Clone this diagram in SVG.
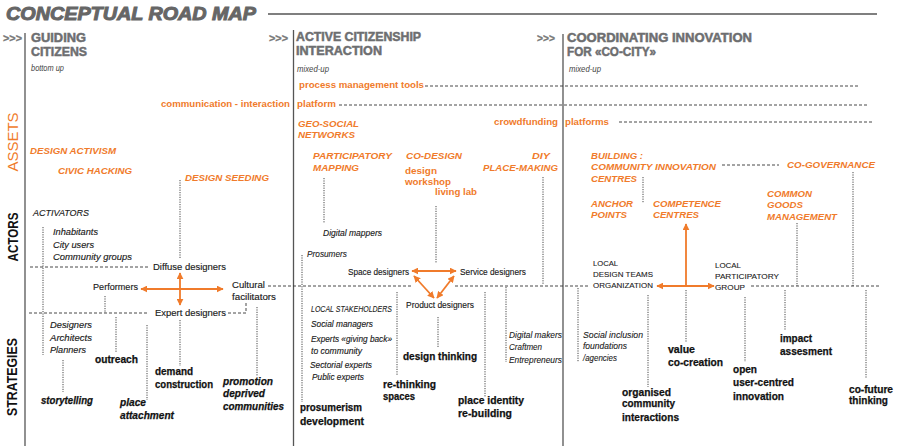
<svg xmlns="http://www.w3.org/2000/svg" width="899" height="446" viewBox="0 0 899 446">
<style>
text{font-family:"Liberation Sans",Arial,Helvetica,sans-serif}
.title{font-size:18.5px;font-weight:bold;font-style:italic;fill:#666;stroke:#666;stroke-width:1}
.hd{font-size:12.5px;font-weight:bold;fill:#6d6e70;stroke:#6d6e70;stroke-width:0.5}
.arr{font-size:10px;font-weight:bold;fill:#777;stroke:#777;stroke-width:0.3}
.sub{font-size:8.5px;font-style:italic;fill:#444}
.o{font-size:9.5px;font-weight:bold;fill:#f07b2b}
.oi{font-size:9.5px;font-weight:bold;font-style:italic;fill:#f07b2b}
.k{font-size:9.5px;fill:#1a1a1a;stroke:#1a1a1a;stroke-width:0.15}
.kc{font-size:8px;fill:#1a1a1a;stroke:#1a1a1a;stroke-width:0.1}
.ki{font-size:9.5px;font-style:italic;fill:#1a1a1a;stroke:#1a1a1a;stroke-width:0.15}
.ks{font-size:8.5px;font-style:italic;fill:#1a1a1a;stroke:#1a1a1a;stroke-width:0.1}
.kb{font-size:10px;font-weight:bold;fill:#111;stroke:#111;stroke-width:0.25}
.kbi{font-size:10px;font-weight:bold;font-style:italic;fill:#111;stroke:#111;stroke-width:0.25}
.axo{font-size:14.5px;fill:#f07b2b}
.axk{font-size:14.5px;font-weight:bold;fill:#111}
.col{stroke:#555;stroke-width:1.3;fill:none}
.dh{stroke:#333;stroke-width:0.9;stroke-dasharray:3 2;fill:none}
.dv{stroke:#333;stroke-width:0.9;stroke-dasharray:1.2 1.2;fill:none}
.oa{stroke:#f07b2b;stroke-width:1.8;fill:none}
</style>
<defs>
<marker id="ah" viewBox="0 0 10 10" refX="9" refY="5" markerWidth="7" markerHeight="7" markerUnits="userSpaceOnUse" orient="auto-start-reverse">
<path d="M0,0 L10,5 L0,10 z" fill="#f07b2b"/>
</marker>
</defs>
<rect width="899" height="446" fill="#ffffff"/>

<g id="title">
<text class="title" x="6" y="20" textLength="250" lengthAdjust="spacingAndGlyphs">CONCEPTUAL ROAD MAP</text>
<line x1="268" y1="14" x2="877" y2="14" stroke="#555" stroke-width="1.5"/>
</g>

<g id="columns">
<line class="col" x1="25" y1="33" x2="25" y2="446"/>
<line class="col" x1="293.5" y1="30" x2="293.5" y2="446"/>
<line class="col" x1="563" y1="34" x2="563" y2="446"/>
</g>

<g id="axis-labels">
<text class="axo" transform="translate(18,142) rotate(-90)" text-anchor="middle" textLength="59" lengthAdjust="spacingAndGlyphs">ASSETS</text>
<text class="axk" transform="translate(18,237) rotate(-90)" text-anchor="middle" textLength="49" lengthAdjust="spacingAndGlyphs">ACTORS</text>
<text class="axk" transform="translate(17,377) rotate(-90)" text-anchor="middle" textLength="78" lengthAdjust="spacingAndGlyphs">STRATEGIES</text>
</g>

<g id="header-guiding">
<text class="arr" x="3" y="42" textLength="19" lengthAdjust="spacingAndGlyphs">&gt;&gt;&gt;</text>
<text class="hd" x="31" y="42" textLength="55" lengthAdjust="spacingAndGlyphs">GUIDING</text>
<text class="hd" x="31" y="56" textLength="56" lengthAdjust="spacingAndGlyphs">CITIZENS</text>
<text class="sub" x="31" y="71" textLength="33" lengthAdjust="spacingAndGlyphs">bottom up</text>
</g>
<g id="header-active">
<text class="arr" x="269" y="42" textLength="19" lengthAdjust="spacingAndGlyphs">&gt;&gt;&gt;</text>
<text class="hd" x="296" y="41" textLength="125" lengthAdjust="spacingAndGlyphs">ACTIVE CITIZENSHIP</text>
<text class="hd" x="296" y="55" textLength="86" lengthAdjust="spacingAndGlyphs">INTERACTION</text>
<text class="sub" x="297" y="72" textLength="32" lengthAdjust="spacingAndGlyphs">mixed-up</text>
</g>
<g id="header-coordinating">
<text class="arr" x="537" y="42" textLength="18" lengthAdjust="spacingAndGlyphs">&gt;&gt;&gt;</text>
<text class="hd" x="567" y="42" textLength="185" lengthAdjust="spacingAndGlyphs">COORDINATING INNOVATION</text>
<text class="hd" x="567" y="56" textLength="89" lengthAdjust="spacingAndGlyphs">FOR «CO-CITY»</text>
<text class="sub" x="569" y="72" textLength="32" lengthAdjust="spacingAndGlyphs">mixed-up</text>
</g>

<g id="connectors">
<line class="dh" x1="425" y1="86" x2="858" y2="86"/>
<line class="dh" x1="339" y1="105" x2="868" y2="105"/>
<line class="dh" x1="619" y1="122" x2="872" y2="122"/>
<line class="dh" x1="30" y1="267" x2="148" y2="267"/>
<line class="dh" x1="29" y1="313" x2="147" y2="313"/>
<polyline class="dh" points="228,313 246,313 246,303"/>
<line class="dv" x1="43" y1="227" x2="43" y2="355"/>
<line class="dv" x1="180" y1="180" x2="180" y2="258"/>
<line class="dv" x1="105" y1="296" x2="105" y2="313"/>
<line class="dv" x1="116" y1="317" x2="116" y2="353"/>
<line class="dv" x1="63" y1="360" x2="63" y2="392"/>
<line class="dv" x1="147" y1="325" x2="147" y2="400"/>
<line class="dv" x1="180" y1="320" x2="180" y2="366"/>
<line class="dv" x1="257" y1="307" x2="257" y2="376"/>
<line class="dh" x1="268" y1="286" x2="413" y2="286"/>
<line class="dh" x1="455" y1="286" x2="590" y2="286"/>
<line class="dh" x1="751" y1="286" x2="880" y2="286"/>
<line class="dv" x1="324" y1="178" x2="324" y2="223"/>
<line class="dv" x1="436" y1="206" x2="436" y2="263"/>
<line class="dv" x1="543" y1="177" x2="543" y2="285"/>
<line class="dv" x1="302" y1="255" x2="302" y2="402"/>
<line class="dv" x1="438" y1="317" x2="438" y2="348"/>
<line class="dv" x1="397" y1="292" x2="397" y2="375"/>
<line class="dv" x1="485" y1="292" x2="485" y2="397"/>
<line class="dv" x1="506" y1="287" x2="506" y2="362"/>
<line class="dh" x1="722" y1="165" x2="779" y2="165"/>
<line class="dv" x1="643" y1="177" x2="643" y2="203"/>
<line class="dv" x1="797" y1="223" x2="797" y2="286"/>
<line class="dv" x1="853" y1="172" x2="853" y2="286"/>
<line class="dv" x1="578" y1="288" x2="578" y2="362"/>
<line class="dv" x1="648" y1="295" x2="648" y2="387"/>
<line class="dv" x1="686" y1="290" x2="686" y2="342"/>
<line class="dv" x1="745" y1="297" x2="745" y2="362"/>
<line class="dv" x1="785" y1="290" x2="785" y2="330"/>
<line class="dv" x1="866" y1="290" x2="866" y2="378"/>
<line class="oa" x1="141" y1="289" x2="223" y2="289" marker-start="url(#ah)" marker-end="url(#ah)"/>
<line class="oa" x1="180" y1="273" x2="180" y2="305" marker-start="url(#ah)" marker-end="url(#ah)"/>
<line class="oa" x1="412" y1="271" x2="456" y2="271" marker-start="url(#ah)" marker-end="url(#ah)"/>
<line class="oa" x1="414" y1="276" x2="434" y2="298" marker-start="url(#ah)" marker-end="url(#ah)"/>
<line class="oa" x1="454" y1="276" x2="437" y2="298" marker-start="url(#ah)" marker-end="url(#ah)"/>
<line class="oa" x1="657" y1="286" x2="714" y2="286" marker-start="url(#ah)" marker-end="url(#ah)"/>
<line class="oa" x1="686" y1="286" x2="686" y2="224" marker-end="url(#ah)"/>
</g>

<g id="process-management-tools"><text class="o" x="299" y="88" textLength="125" lengthAdjust="spacingAndGlyphs">process management tools</text></g>
<g id="communication-platform">
<text class="o" x="161" y="107" textLength="129" lengthAdjust="spacingAndGlyphs">communication - interaction</text>
<text class="o" x="297" y="107" textLength="39" lengthAdjust="spacingAndGlyphs">platform</text>
</g>
<g id="crowdfunding-platforms">
<text class="o" x="494" y="125" textLength="64" lengthAdjust="spacingAndGlyphs">crowdfunding</text>
<text class="o" x="565" y="125" textLength="44" lengthAdjust="spacingAndGlyphs">platforms</text>
</g>
<g id="geo-social"><text class="oi" x="298" y="127" textLength="61" lengthAdjust="spacingAndGlyphs">GEO-SOCIAL</text><text class="oi" x="298" y="138" textLength="57" lengthAdjust="spacingAndGlyphs">NETWORKS</text></g>
<g id="design-activism"><text class="oi" x="30" y="154" textLength="86" lengthAdjust="spacingAndGlyphs">DESIGN ACTIVISM</text></g>
<g id="civic-hacking"><text class="oi" x="58" y="174" textLength="74" lengthAdjust="spacingAndGlyphs">CIVIC HACKING</text></g>
<g id="design-seeding"><text class="oi" x="185" y="181" textLength="84" lengthAdjust="spacingAndGlyphs">DESIGN SEEDING</text></g>
<g id="participatory-mapping"><text class="oi" x="313" y="159" textLength="79" lengthAdjust="spacingAndGlyphs">PARTICIPATORY</text><text class="oi" x="313" y="171" textLength="46" lengthAdjust="spacingAndGlyphs">MAPPING</text></g>
<g id="co-design">
<text class="oi" x="406" y="159" textLength="56" lengthAdjust="spacingAndGlyphs">CO-DESIGN</text>
<text class="o" x="405" y="174" textLength="32" lengthAdjust="spacingAndGlyphs">design</text>
<text class="o" x="405" y="185" textLength="46" lengthAdjust="spacingAndGlyphs">workshop</text>
<text class="o" x="435" y="195" textLength="42" lengthAdjust="spacingAndGlyphs">living lab</text>
</g>
<g id="diy-place-making"><text class="oi" x="532" y="159" textLength="18" lengthAdjust="spacingAndGlyphs">DIY</text><text class="oi" x="483" y="171" textLength="75" lengthAdjust="spacingAndGlyphs">PLACE-MAKING</text></g>
<g id="building-cic">
<text class="oi" x="591" y="159" textLength="52" lengthAdjust="spacingAndGlyphs">BUILDING :</text>
<text class="oi" x="591" y="170" textLength="125" lengthAdjust="spacingAndGlyphs">COMMUNITY INNOVATION</text>
<text class="oi" x="591" y="182" textLength="46" lengthAdjust="spacingAndGlyphs">CENTRES</text>
</g>
<g id="co-governance"><text class="oi" x="787" y="168" textLength="88" lengthAdjust="spacingAndGlyphs">CO-GOVERNANCE</text></g>
<g id="anchor-points"><text class="oi" x="591" y="207" textLength="42" lengthAdjust="spacingAndGlyphs">ANCHOR</text><text class="oi" x="591" y="218" textLength="36" lengthAdjust="spacingAndGlyphs">POINTS</text></g>
<g id="competence-centres"><text class="oi" x="653" y="207" textLength="68" lengthAdjust="spacingAndGlyphs">COMPETENCE</text><text class="oi" x="653" y="218" textLength="46" lengthAdjust="spacingAndGlyphs">CENTRES</text></g>
<g id="common-goods"><text class="oi" x="767" y="197" textLength="45" lengthAdjust="spacingAndGlyphs">COMMON</text><text class="oi" x="767" y="208" textLength="36" lengthAdjust="spacingAndGlyphs">GOODS</text><text class="oi" x="767" y="220" textLength="70" lengthAdjust="spacingAndGlyphs">MANAGEMENT</text></g>

<g id="activators">
<text class="ki" x="33" y="216" textLength="56" lengthAdjust="spacingAndGlyphs">ACTIVATORS</text>
<text class="ki" x="53" y="235" textLength="45" lengthAdjust="spacingAndGlyphs">Inhabitants</text>
<text class="ki" x="53" y="248" textLength="41" lengthAdjust="spacingAndGlyphs">City users</text>
<text class="ki" x="53" y="260" textLength="79" lengthAdjust="spacingAndGlyphs">Community groups</text>
</g>
<g id="diffuse-designers"><text class="k" x="153" y="270" textLength="73" lengthAdjust="spacingAndGlyphs">Diffuse designers</text></g>
<g id="performers"><text class="k" x="93" y="290" textLength="45" lengthAdjust="spacingAndGlyphs">Performers</text></g>
<g id="cultural-facilitators"><text class="k" x="232" y="288" textLength="33" lengthAdjust="spacingAndGlyphs">Cultural</text><text class="k" x="232" y="300" textLength="44" lengthAdjust="spacingAndGlyphs">facilitators</text></g>
<g id="expert-designers"><text class="k" x="155" y="316" textLength="71" lengthAdjust="spacingAndGlyphs">Expert designers</text></g>
<g id="designers-list">
<text class="ki" x="50" y="328" textLength="42" lengthAdjust="spacingAndGlyphs">Designers</text>
<text class="ki" x="50" y="341" textLength="42" lengthAdjust="spacingAndGlyphs">Architects</text>
<text class="ki" x="50" y="353" textLength="36" lengthAdjust="spacingAndGlyphs">Planners</text>
</g>
<g id="outreach"><text class="kb" x="95" y="363" textLength="43" lengthAdjust="spacingAndGlyphs">outreach</text></g>
<g id="storytelling"><text class="kbi" x="41" y="404" textLength="52" lengthAdjust="spacingAndGlyphs">storytelling</text></g>
<g id="place-attachment"><text class="kbi" x="120" y="406" textLength="26" lengthAdjust="spacingAndGlyphs">place</text><text class="kbi" x="120" y="419" textLength="54" lengthAdjust="spacingAndGlyphs">attachment</text></g>
<g id="demand-construction"><text class="kb" x="155" y="375" textLength="38" lengthAdjust="spacingAndGlyphs">demand</text><text class="kb" x="155" y="388" textLength="58" lengthAdjust="spacingAndGlyphs">construction</text></g>
<g id="promotion"><text class="kbi" x="223" y="385" textLength="50" lengthAdjust="spacingAndGlyphs">promotion</text><text class="kbi" x="223" y="397" textLength="42" lengthAdjust="spacingAndGlyphs">deprived</text><text class="kbi" x="223" y="410" textLength="61" lengthAdjust="spacingAndGlyphs">communities</text></g>

<g id="digital-mappers"><text class="ki" x="323" y="236" textLength="59" lengthAdjust="spacingAndGlyphs">Digital mappers</text></g>
<g id="prosumers"><text class="ks" x="307" y="257" textLength="40" lengthAdjust="spacingAndGlyphs">Prosumers</text></g>
<g id="space-designers"><text class="k" x="348" y="275" textLength="61" lengthAdjust="spacingAndGlyphs">Space designers</text></g>
<g id="service-designers"><text class="k" x="460" y="275" textLength="66" lengthAdjust="spacingAndGlyphs">Service designers</text></g>
<g id="product-designers"><text class="k" x="406" y="308" textLength="68" lengthAdjust="spacingAndGlyphs">Product designers</text></g>
<g id="local-stakeholders">
<text class="ks" x="311" y="312" font-size="7" textLength="81" lengthAdjust="spacingAndGlyphs">LOCAL STAKEHOLDERS</text>
<text class="ki" x="311" y="327" textLength="62" lengthAdjust="spacingAndGlyphs">Social managers</text>
<text class="ki" x="311" y="342" textLength="81" lengthAdjust="spacingAndGlyphs">Experts «giving back»</text>
<text class="ki" x="311" y="354" textLength="51" lengthAdjust="spacingAndGlyphs">to community</text>
<text class="ki" x="310" y="368" textLength="62" lengthAdjust="spacingAndGlyphs">Sectorial experts</text>
<text class="ki" x="312" y="380" textLength="52" lengthAdjust="spacingAndGlyphs">Public experts</text>
</g>
<g id="design-thinking"><text class="kb" x="403" y="360" textLength="74" lengthAdjust="spacingAndGlyphs">design thinking</text></g>
<g id="re-thinking-spaces"><text class="kb" x="383" y="388" textLength="53" lengthAdjust="spacingAndGlyphs">re-thinking</text><text class="kb" x="383" y="400" textLength="32" lengthAdjust="spacingAndGlyphs">spaces</text></g>
<g id="place-identity"><text class="kb" x="458" y="404" textLength="66" lengthAdjust="spacingAndGlyphs">place identity</text><text class="kb" x="458" y="417" textLength="54" lengthAdjust="spacingAndGlyphs">re-building</text></g>
<g id="digital-makers">
<text class="ks" x="509" y="338" textLength="53" lengthAdjust="spacingAndGlyphs">Digital makers</text>
<text class="ks" x="509" y="350" textLength="33" lengthAdjust="spacingAndGlyphs">Craftmen</text>
<text class="ks" x="509" y="363" textLength="53" lengthAdjust="spacingAndGlyphs">Entrepreneurs</text>
</g>
<g id="prosumerism"><text class="kb" x="300" y="411" textLength="62" lengthAdjust="spacingAndGlyphs">prosumerism</text><text class="kb" x="300" y="425" textLength="64" lengthAdjust="spacingAndGlyphs">development</text></g>

<g id="local-design-teams">
<text class="kc" x="593" y="266" textLength="25" lengthAdjust="spacingAndGlyphs">LOCAL</text>
<text class="kc" x="593" y="277" textLength="60" lengthAdjust="spacingAndGlyphs">DESIGN TEAMS</text>
<text class="kc" x="593" y="288" textLength="60" lengthAdjust="spacingAndGlyphs">ORGANIZATION</text>
</g>
<g id="local-participatory-group">
<text class="kc" x="715" y="268" textLength="26" lengthAdjust="spacingAndGlyphs">LOCAL</text>
<text class="kc" x="715" y="279" textLength="64" lengthAdjust="spacingAndGlyphs">PARTICIPATORY</text>
<text class="kc" x="715" y="290" textLength="30" lengthAdjust="spacingAndGlyphs">GROUP</text>
</g>
<g id="social-inclusion">
<text class="ks" x="583" y="338" textLength="60" lengthAdjust="spacingAndGlyphs">Social inclusion</text>
<text class="ks" x="583" y="349" textLength="44" lengthAdjust="spacingAndGlyphs">foundations</text>
<text class="ks" x="583" y="361" textLength="34" lengthAdjust="spacingAndGlyphs">/agencies</text>
</g>
<g id="organised-community"><text class="kb" x="622" y="396" textLength="49" lengthAdjust="spacingAndGlyphs">organised</text><text class="kb" x="622" y="407" textLength="53" lengthAdjust="spacingAndGlyphs">community</text><text class="kb" x="622" y="421" textLength="57" lengthAdjust="spacingAndGlyphs">interactions</text></g>
<g id="value-co-creation"><text class="kb" x="668" y="353" textLength="27" lengthAdjust="spacingAndGlyphs">value</text><text class="kb" x="668" y="366" textLength="55" lengthAdjust="spacingAndGlyphs">co-creation</text></g>
<g id="open-innovation"><text class="kb" x="733" y="373" textLength="24" lengthAdjust="spacingAndGlyphs">open</text><text class="kb" x="733" y="386" textLength="61" lengthAdjust="spacingAndGlyphs">user-centred</text><text class="kb" x="733" y="400" textLength="51" lengthAdjust="spacingAndGlyphs">innovation</text></g>
<g id="impact-assesment"><text class="kb" x="780" y="342" textLength="32" lengthAdjust="spacingAndGlyphs">impact</text><text class="kb" x="780" y="355" textLength="52" lengthAdjust="spacingAndGlyphs">assesment</text></g>
<g id="co-future-thinking"><text class="kb" x="849" y="393" textLength="44" lengthAdjust="spacingAndGlyphs">co-future</text><text class="kb" x="849" y="404" textLength="39" lengthAdjust="spacingAndGlyphs">thinking</text></g>
</svg>
